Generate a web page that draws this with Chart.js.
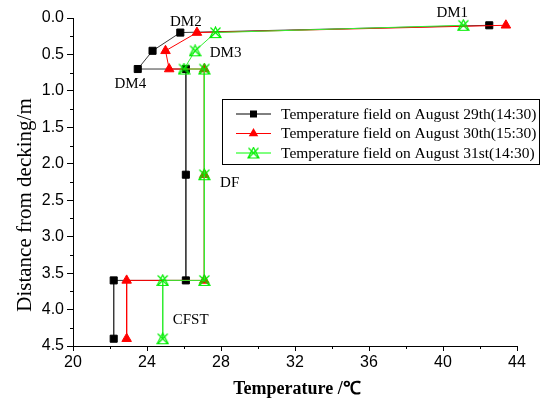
<!DOCTYPE html>
<html><head><meta charset="utf-8">
<script src="https://cdn.jsdelivr.net/npm/chart.js@4/dist/chart.umd.min.js"></script>
<style>html,body{margin:0;padding:0;background:#fff}canvas{display:block}</style>
</head><body>
<canvas id="c" width="547" height="399"></canvas>
<script>
// ---- data ----
const depths = [0.1, 0.2, 0.45, 0.7, 0.7, 2.15, 3.6, 3.6, 4.4];
const tempAug29 = [42.5, 25.8, 24.3, 23.5, 26.1, 26.1, 26.1, 22.2, 22.2];
const tempAug30 = [43.4, 26.7, 25.0, 25.2, 27.1, 27.1, 27.1, 22.9, 22.9];
const tempAug31 = [41.1, 27.7, 26.6, 26.0, 27.1, 27.1, 27.1, 24.85, 24.85];
const seriesLabels = [
  'Temperature field on August 29th(14:30)',
  'Temperature field on August 30th(15:30)',
  'Temperature field on August 31st(14:30)'
];
const xTickValues = [20, 24, 28, 32, 36, 40, 44];
const yTickValues = [0.0, 0.5, 1.0, 1.5, 2.0, 2.5, 3.0, 3.5, 4.0, 4.5];
const noteLabels = ['DM1', 'DM2', 'DM3', 'DM4', 'DF', 'CFST'];

// ---- layout (not data) ----
const notePlaces = [[40.5, -0.07], [26.1, 0.055], [28.25, 0.48], [23.1, 0.905], [28.47, 2.26], [26.36, 4.14]];
const SERIF = '"Liberation Serif","Times New Roman",serif';
const SANS = '"Liberation Sans",Arial,sans-serif';

function greenMarker() {
  const c = document.createElement('canvas');
  c.width = 13; c.height = 13;
  const g = c.getContext('2d');
  g.strokeStyle = '#00ee00'; g.lineWidth = 1.2;
  g.beginPath(); g.moveTo(6.5, 1); g.lineTo(12, 11.5); g.lineTo(1, 11.5); g.closePath(); g.stroke();
  g.beginPath(); g.moveTo(1.5, 1.5); g.lineTo(11.5, 11.5); g.moveTo(11.5, 1.5); g.lineTo(1.5, 11.5); g.stroke();
  return c;
}
const gMark = greenMarker();

const toPts = (temps) => temps.map((t, i) => ({x: t, y: depths[i]}));

const styles = [
  {color: '#000000', line: '#3a3a3a', point: 'rect', radius: 5, order: 2},
  {color: '#ff0000', line: '#ff0000', point: 'triangle', radius: 5.5, order: 1},
  {color: '#00ff00', line: '#33ee33', point: gMark, radius: 6, order: 0}
];
const seriesTemps = [tempAug29, tempAug30, tempAug31];

const datasets = seriesTemps.map((t, i) => ({
  label: seriesLabels[i],
  data: toPts(t),
  showLine: true,
  borderColor: styles[i].line,
  backgroundColor: styles[i].color,
  pointBorderColor: styles[i].color,
  borderWidth: 1,
  pointStyle: styles[i].point,
  pointRadius: styles[i].radius,
  pointHoverRadius: styles[i].radius,
  pointBorderWidth: 1,
  tension: 0,
  order: styles[i].order,
  clip: false
}));

const extras = {
  id: 'extras',
  afterDraw(chart) {
    const ctx = chart.ctx;
    const xs = chart.scales.x, ys = chart.scales.y;
    ctx.save();
    // minor ticks
    ctx.strokeStyle = '#000'; ctx.lineWidth = 1;
    ctx.beginPath();
    for (let v = 22; v < 44; v += 4) {
      const px = Math.round(xs.getPixelForValue(v)) + 0.5;
      ctx.moveTo(px, ys.bottom); ctx.lineTo(px, ys.bottom + 3);
    }
    for (let v = 0.25; v < 4.5; v += 0.5) {
      const py = Math.round(ys.getPixelForValue(v)) + 0.5;
      ctx.moveTo(xs.left, py); ctx.lineTo(xs.left - 3, py);
    }
    ctx.stroke();

    // annotations
    ctx.fillStyle = '#000';
    ctx.font = '15px ' + SERIF;
    ctx.textAlign = 'center'; ctx.textBaseline = 'middle';
    noteLabels.forEach((t, i) => {
      ctx.fillText(t, xs.getPixelForValue(notePlaces[i][0]), ys.getPixelForValue(notePlaces[i][1]));
    });

    // axis titles
    ctx.font = 'bold 18px ' + SERIF;
    ctx.fillText('Temperature /\u2103', (xs.left + xs.right) / 2 + 2, 389);
    ctx.save();
    ctx.translate(25, 205);
    ctx.rotate(-Math.PI / 2);
    ctx.font = '21px ' + SERIF;
    ctx.fillText('Distance from decking/m', 0, 0);
    ctx.restore();

    // legend
    ctx.fillStyle = '#fff';
    ctx.fillRect(222, 99, 318, 66);
    ctx.strokeStyle = '#000'; ctx.lineWidth = 1;
    ctx.strokeRect(222.5, 99.5, 317, 65);
    chart.data.datasets.forEach((ds, i) => {
      const y = 114 + i * 19.5;
      ctx.strokeStyle = ds.pointBorderColor; ctx.lineWidth = 1;
      ctx.beginPath(); ctx.moveTo(236, y); ctx.lineTo(271, y); ctx.stroke();
      const cx = 253.5;
      ctx.fillStyle = ds.backgroundColor;
      if (ds.pointStyle === 'rect') {
        ctx.fillRect(cx - 3.5, y - 3.5, 7, 7);
      } else if (ds.pointStyle === 'triangle') {
        const r = ds.pointRadius;
        ctx.beginPath();
        ctx.moveTo(cx, y - r);
        ctx.lineTo(cx + r * 0.866, y + r / 2);
        ctx.lineTo(cx - r * 0.866, y + r / 2);
        ctx.closePath(); ctx.fill();
      } else {
        ctx.drawImage(ds.pointStyle, cx - ds.pointStyle.width / 2, y - ds.pointStyle.height / 2);
      }
      ctx.fillStyle = '#000';
      ctx.font = '15.5px ' + SERIF;
      ctx.textAlign = 'left';
      ctx.fillText(ds.label, 281, y + 0.5);
    });
    ctx.restore();
  }
};

new Chart(document.getElementById('c'), {
  type: 'scatter',
  data: {datasets},
  options: {
    responsive: false,
    animation: false,
    devicePixelRatio: 1,
    layout: {padding: {top: 18, right: 30, left: 0, bottom: 0}},
    plugins: {legend: {display: false}, tooltip: {enabled: false}},
    scales: {
      x: {
        type: 'linear', min: 20, max: 44,
        afterFit: (s) => { s.height = 53; },
        afterBuildTicks: (s) => { s.ticks = xTickValues.map(v => ({value: v})); },
        ticks: {color: '#000', font: {family: SANS, size: 16}, padding: 2, callback: (v) => String(v), maxRotation: 0},
        grid: {drawOnChartArea: false, drawTicks: true, tickLength: 5, color: '#000'},
        border: {display: true, color: '#000', width: 1}
      },
      y: {
        type: 'linear', min: 0, max: 4.5, reverse: true,
        afterFit: (s) => { s.width = 73; },
        afterBuildTicks: (s) => { s.ticks = yTickValues.map(v => ({value: v})); },
        ticks: {color: '#000', font: {family: SANS, size: 16}, padding: 3, callback: (v) => Number(v).toFixed(1)},
        grid: {drawOnChartArea: false, drawTicks: true, tickLength: 6, color: '#000'},
        border: {display: true, color: '#000', width: 1}
      }
    }
  },
  plugins: [extras]
});
</script>
</body></html>
